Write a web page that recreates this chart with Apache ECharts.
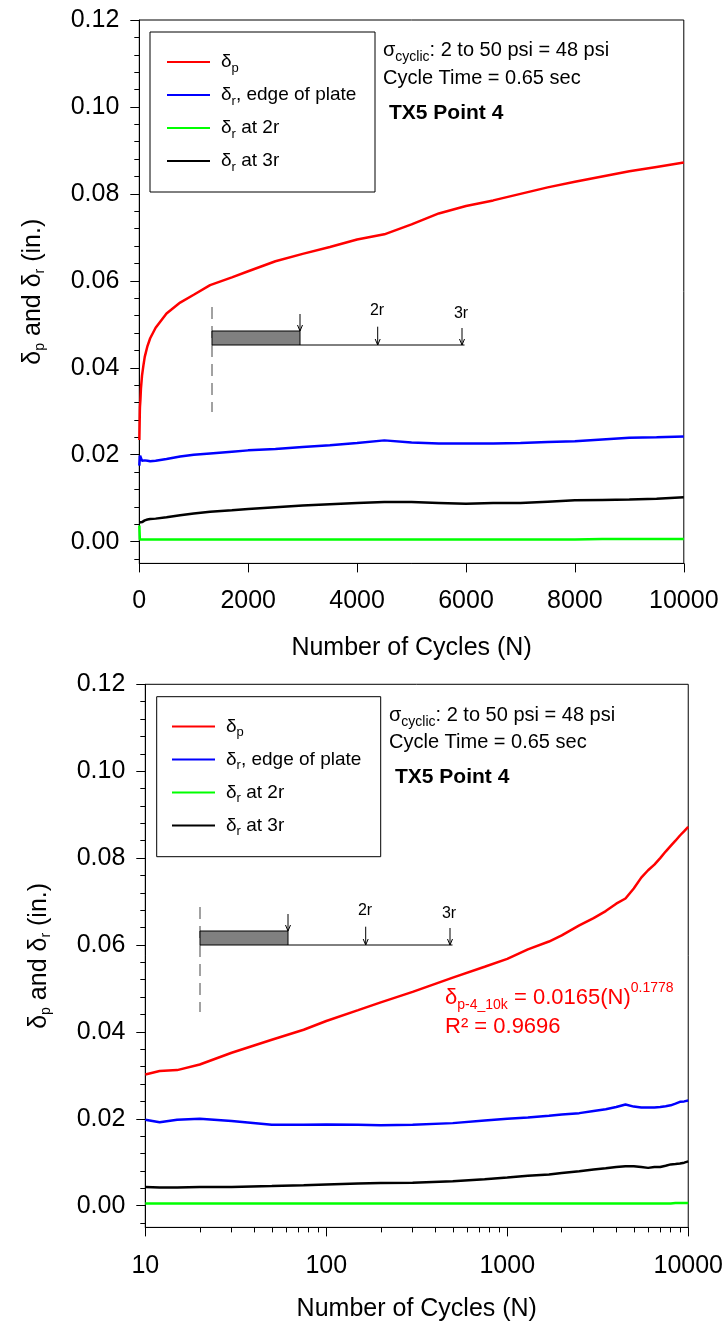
<!DOCTYPE html>
<html><head><meta charset="utf-8">
<script src="https://cdn.jsdelivr.net/npm/echarts@6/dist/echarts.min.js"></script>
<style>html,body{margin:0;padding:0;background:#fff}#c{width:726px;height:1325px}</style>
</head><body><div id="c"></div>
<script>
// ---------------- data ----------------
const cycles = [1, 10, 12, 15, 20, 30, 50, 75, 100, 150, 200, 300, 500, 750, 1000, 1300, 1700, 2000, 2500, 3000, 3500, 4000, 4500, 5000, 5500, 6000, 6500, 7000, 7500, 8000, 8500, 9000, 9500, 10000];
const deltaP = [0.0234, 0.0302, 0.0310, 0.0312, 0.0325, 0.0352, 0.0382, 0.0405, 0.0425, 0.0450, 0.0468, 0.0492, 0.0525, 0.0550, 0.0568, 0.0590, 0.0608, 0.0622, 0.0645, 0.0662, 0.0678, 0.0695, 0.0707, 0.0730, 0.0755, 0.0772, 0.0785, 0.0800, 0.0815, 0.0828, 0.0840, 0.0852, 0.0862, 0.0872];
const deltaREdge = [0.0175, 0.0198, 0.0192, 0.0198, 0.0200, 0.0195, 0.0186, 0.0186, 0.0187, 0.0186, 0.0185, 0.0186, 0.0190, 0.0196, 0.0200, 0.0203, 0.0207, 0.0210, 0.0213, 0.0218, 0.0222, 0.0227, 0.0233, 0.0228, 0.0226, 0.0226, 0.0226, 0.0227, 0.0229, 0.0231, 0.0235, 0.0239, 0.0240, 0.0242];
const deltaR2r = [0.0037, 0.0005, 0.0005, 0.0005, 0.0005, 0.0005, 0.0005, 0.0005, 0.0005, 0.0005, 0.0005, 0.0005, 0.0005, 0.0005, 0.0005, 0.0005, 0.0005, 0.0005, 0.0005, 0.0005, 0.0005, 0.0005, 0.0005, 0.0005, 0.0005, 0.0005, 0.0005, 0.0005, 0.0005, 0.0005, 0.0006, 0.0006, 0.0006, 0.0006];
const deltaR3r = [0.0044, 0.0043, 0.0042, 0.0042, 0.0043, 0.0043, 0.0045, 0.0047, 0.0049, 0.0051, 0.0052, 0.0053, 0.0056, 0.0061, 0.0065, 0.0069, 0.0072, 0.0075, 0.0079, 0.0083, 0.0086, 0.0089, 0.0091, 0.0091, 0.0089, 0.0087, 0.0089, 0.0089, 0.0092, 0.0095, 0.0096, 0.0097, 0.0099, 0.0102];

const seriesNames = ['δp', 'δr, edge of plate', 'δr at 2r', 'δr at 3r'];
const legendLabels = {'δp': 'δ{s|p}', 'δr, edge of plate': 'δ{s|r}, edge of plate', 'δr at 2r': 'δ{s|r} at 2r', 'δr at 3r': 'δ{s|r} at 3r'};
const seriesColors = ['#ff0000', '#0000ff', '#00ff00', '#000000'];

const yMajorTicks = [0, 0.02, 0.04, 0.06, 0.08, 0.10, 0.12];
const yMinorTicks = [-0.004, 0.004, 0.008, 0.012, 0.016, 0.024, 0.028, 0.032, 0.036, 0.044, 0.048, 0.052, 0.056, 0.064, 0.068, 0.072, 0.076, 0.084, 0.088, 0.092, 0.096, 0.104, 0.108, 0.112, 0.116];
const xLinearTicks = [0, 2000, 4000, 6000, 8000, 10000];
const xLogTicks = [10, 100, 1000, 10000];
const xLogMinorTicks = [20, 30, 40, 50, 60, 70, 80, 90, 200, 300, 400, 500, 600, 700, 800, 900, 2000, 3000, 4000, 5000, 6000, 7000, 8000, 9000];

const textLine1 = 'σ{sub|cyclic}: 2 to 50 psi = 48 psi';
const textLine2 = 'Cycle Time = 0.65 sec';
const textLine3 = 'TX5 Point 4';
const eqLine1 = 'δ{sub|p-4_10k} = 0.0165(N){sup|0.1778}';
const eqLine2 = 'R² = 0.9696';
const xTitle = 'Number of Cycles (N)';
const yTitle = 'δ{s|p} and δ{s|r} (in.)';

// ---------------- layout ----------------
const FONT = "'Liberation Sans', Arial, sans-serif";
const G = [
  {left: 139.3, top: 20, width: 544.5, height: 543.4},
  {left: 145.3, top: 684.3, width: 544, height: 543.1}
];

const chart = echarts.init(document.getElementById('c'), null, {renderer: 'canvas'});

function yAxesFor(gi) {
  return [{
    type: 'value', gridIndex: gi, position: 'left', min: -0.005, max: 0.12,
    axisLine: {show: true, onZero: false, lineStyle: {color: '#000', width: 1}},
    axisTick: {show: true, inside: false, length: 9, customValues: yMajorTicks, lineStyle: {color: '#000', width: 1}},
    axisLabel: {customValues: yMajorTicks, formatter: v => v.toFixed(2), fontSize: 25, color: '#000', fontFamily: FONT, margin: 20},
    splitLine: {show: false},
    name: yTitle, nameLocation: 'middle', nameGap: 94,
    nameTextStyle: {fontSize: 25, color: '#000', fontFamily: FONT, lineHeight: 25,
      rich: {s: {fontSize: 14, fontFamily: FONT, color: '#000', lineHeight: 14, padding: [14, 0, 0, 0]}}}
  }, {
    type: 'value', gridIndex: gi, position: 'left', min: -0.005, max: 0.12,
    axisLine: {show: false, onZero: false},
    axisTick: {show: true, inside: false, length: 5, customValues: yMinorTicks, lineStyle: {color: '#000', width: 1}},
    axisLabel: {show: false}, splitLine: {show: false}
  }];
}

const xAxes = [
  {
    type: 'value', gridIndex: 0, position: 'bottom', min: 0, max: 10000, interval: 2000,
    axisLine: {show: true, onZero: false, lineStyle: {color: '#000', width: 1}},
    axisTick: {show: true, length: 9, lineStyle: {color: '#000'}},
    axisLabel: {fontSize: 25, color: '#000', fontFamily: FONT, margin: 25, formatter: v => String(v)},
    splitLine: {show: false},
    name: xTitle, nameLocation: 'middle', nameGap: 72,
    nameTextStyle: {fontSize: 25, color: '#000', fontFamily: FONT}
  },
  {
    type: 'log', logBase: 10, gridIndex: 1, position: 'bottom', min: 10, max: 10000,
    axisLine: {show: true, onZero: false, lineStyle: {color: '#000', width: 1}},
    axisTick: {show: true, length: 9, customValues: xLogTicks, lineStyle: {color: '#000'}},
    axisLabel: {fontSize: 25, color: '#000', fontFamily: FONT, margin: 26, customValues: xLogTicks, formatter: v => String(Math.round(v))},
    splitLine: {show: false},
    name: xTitle, nameLocation: 'middle', nameGap: 69,
    nameTextStyle: {fontSize: 25, color: '#000', fontFamily: FONT}
  },
  {
    type: 'log', logBase: 10, gridIndex: 1, position: 'bottom', min: 10, max: 10000,
    axisLine: {show: false, onZero: false},
    axisTick: {show: true, length: 5, customValues: xLogMinorTicks, lineStyle: {color: '#000'}},
    axisLabel: {show: false}, splitLine: {show: false}
  }
];

const valueSets = [deltaP, deltaREdge, deltaR2r, deltaR3r];
const series = [];
[0, 1].forEach(gi => {
  valueSets.forEach((vals, k) => {
    const pts = [];
    cycles.forEach((n, i) => { if (gi === 0 || n >= 10) pts.push([n, vals[i]]); });
    series.push({
      name: seriesNames[k], type: 'line', xAxisIndex: gi === 0 ? 0 : 1, yAxisIndex: gi === 0 ? 0 : 2,
      data: pts, showSymbol: false, symbol: 'none', clip: true, animation: false,
      lineStyle: {color: seriesColors[k], width: 2.5}, itemStyle: {color: seriesColors[k]}
    });
  });
});

function legendFor(left, top) {
  return {
    orient: 'vertical', left: left, top: top, padding: 0, itemGap: 8, itemWidth: 43, itemHeight: 2,
    selectedMode: false, data: seriesNames.map(n => ({name: n, icon: 'rect'})),
    formatter: name => legendLabels[name],
    textStyle: {fontSize: 19, color: '#000', fontFamily: FONT, lineHeight: 22, padding: [0, 0, 0, 6],
      rich: {s: {fontSize: 13, fontFamily: FONT, color: '#000', lineHeight: 13, padding: [12, 0, 0, 0]}}}
  };
}

function textEl(x, y, text, opts) {
  return Object.assign({type: 'text', x: x, y: y, silent: true, z: 10,
    style: Object.assign({text: text, fontSize: 20, fontFamily: FONT, fill: '#000', align: 'left', verticalAlign: 'middle'}, opts || {})});
}
const subRich = {sub: {fontSize: 14, fontFamily: FONT, fill: '#000', lineHeight: 14, padding: [14, 0, 0, 0]}};

function schematic(ox, oy) {
  const els = [];
  const ln = (x1, y1, x2, y2, extra) => els.push({type: 'line', silent: true, z: 10,
    shape: {x1: x1, y1: y1, x2: x2, y2: y2}, style: Object.assign({stroke: '#000', lineWidth: 1}, extra || {})});
  const arrow = (x, yTop, yTip) => {
    ln(x, yTop, x, yTip);
    els.push({type: 'polyline', silent: true, z: 10, shape: {points: [[x - 2.5, yTip - 6], [x, yTip], [x + 2.5, yTip - 6]]}, style: {stroke: '#000', lineWidth: 1, fill: null}});
  };
  ln(ox, oy - 38, ox, oy + 67, {stroke: '#444', lineDash: [12, 7]});
  els.push({type: 'rect', silent: true, z: 10, shape: {x: ox, y: oy - 14, width: 88, height: 14}, style: {fill: '#808080', stroke: '#000', lineWidth: 1}});
  ln(ox + 88, oy, ox + 252.5, oy);
  arrow(ox + 88, oy - 31, oy - 14);
  arrow(ox + 165.7, oy - 18.3, oy);
  arrow(ox + 250, oy - 17, oy);
  els.push(textEl(ox + 165, oy - 34.3, '2r', {fontSize: 16, align: 'center'}));
  els.push(textEl(ox + 249, oy - 31, '3r', {fontSize: 16, align: 'center'}));
  return els;
}

const graphics = [].concat(
  [{type: 'rect', silent: true, z: 1, shape: {x: 150, y: 32, width: 225, height: 160}, style: {fill: null, stroke: '#000', lineWidth: 1}},
   {type: 'rect', silent: true, z: 1, shape: {x: 156.7, y: 696.7, width: 224, height: 160}, style: {fill: null, stroke: '#000', lineWidth: 1}},
   textEl(383, 50, textLine1, {rich: subRich}),
   textEl(383, 78, textLine2),
   textEl(389, 113, textLine3, {fontWeight: 'bold', fontSize: 21}),
   textEl(389, 715, textLine1, {rich: subRich}),
   textEl(389, 742, textLine2),
   textEl(395, 777, textLine3, {fontWeight: 'bold', fontSize: 21}),
   textEl(445, 998, eqLine1, {fill: '#ff0000', fontSize: 22, rich: {
     sub: {fontSize: 14, fontFamily: FONT, fill: '#ff0000', lineHeight: 14, padding: [14, 0, 0, 0]},
     sup: {fontSize: 14, fontFamily: FONT, fill: '#ff0000', lineHeight: 14, padding: [0, 0, 20, 0]}}}),
   textEl(445, 1027, eqLine2, {fill: '#ff0000', fontSize: 22})
  ],
  schematic(212, 345),
  schematic(200, 945)
);

chart.setOption({
  animation: false,
  backgroundColor: '#fff',
  grid: G.map(g => Object.assign({show: true, borderColor: '#000', borderWidth: 1, backgroundColor: 'transparent', containLabel: false}, g)),
  xAxis: xAxes,
  yAxis: yAxesFor(0).concat(yAxesFor(1)),
  legend: [legendFor(167, 49.5), legendFor(172, 714)],
  series: series,
  graphic: graphics
});
</script>
</body></html>
